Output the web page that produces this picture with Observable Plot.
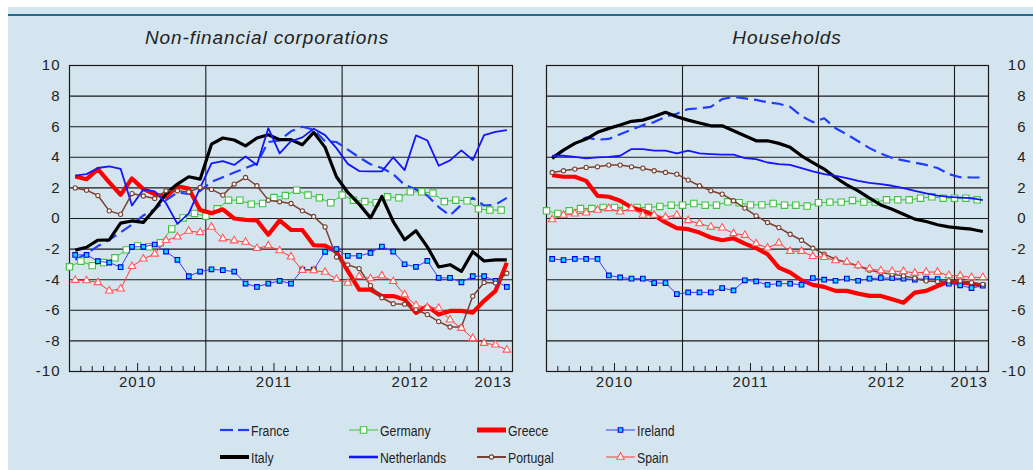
<!DOCTYPE html>
<html><head><meta charset="utf-8">
<script src="https://cdn.jsdelivr.net/npm/d3@7"></script>
<script src="https://cdn.jsdelivr.net/npm/@observablehq/plot@0.6"></script>
<style>
html,body{margin:0;padding:0;background:#fff;}
#wrap{position:relative;width:1033px;height:470px;overflow:hidden;background:#fff;}
#bg{position:absolute;left:8px;top:7px;width:1025px;height:463px;background:#d5e5ef;}
#topline{position:absolute;left:8px;top:14px;width:1025px;height:2px;background:#1f6a90;}
#wrap svg{position:absolute;left:0;top:0;}
</style></head>
<body>
<div id="wrap"><div id="bg"></div><div id="topline"></div></div>
<script>
// ---------- data ----------
const panelTitles = ["Non-financial corporations", "Households"];
const yTicks = [-10, -8, -6, -4, -2, 0, 2, 4, 6, 8, 10];
const yearLabels = ["2010", "2011", "2012", "2013"];
const yearLabelPos = [6, 18, 30, 37.3];   // months since Jan 2010
const yearLines = [12, 24, 36];
const seriesNames = ["France", "Germany", "Greece", "Ireland", "Italy", "Netherlands", "Portugal", "Spain"];

// Non-financial corporations, Jan 2010 - Mar 2013
const nfcFrance = [-2.7,-2.3,-1.8,-1.4,-0.9,-0.4,0.2,0.6,1.2,1.7,1.6,1.8,2.4,2.7,3.0,3.3,3.6,5.0,5.1,5.7,6.0,5.8,5.05,5.0,4.5,4.0,3.55,3.3,2.9,2.2,1.9,1.5,0.75,0.2,0.9,1.35,0.85,0.9,1.35];
const nfcGermany = [-3.16,-2.79,-3.08,-2.88,-2.57,-2.05,-1.79,-1.85,-1.59,-0.68,0.04,0.33,0.15,0.63,1.2,1.2,0.94,0.98,1.37,1.5,1.85,1.53,1.35,1.03,1.53,1.2,1.11,1.03,1.42,1.35,1.74,1.74,1.66,1.11,1.2,1.16,0.63,0.55,0.55];
const nfcGreece = [2.75,2.57,3.23,2.36,1.55,2.62,1.92,1.59,1.42,2.1,1.95,0.55,0.35,0.6,0.0,-0.09,-0.12,-1.06,-0.12,-0.75,-0.75,-1.75,-1.77,-2.18,-3.42,-4.65,-4.65,-5.07,-5.07,-5.29,-6.17,-5.73,-6.28,-6.04,-6.04,-6.15,-5.38,-4.73,-2.89];
const nfcIreland = [-2.38,-2.38,-2.79,-2.88,-3.18,-1.85,-1.85,-1.70,-2.16,-2.70,-3.77,-3.47,-3.32,-3.38,-3.47,-4.25,-4.47,-4.25,-4.08,-4.25,-3.34,-3.34,-2.18,-2.0,-2.44,-2.44,-2.25,-1.83,-2.16,-2.99,-3.16,-2.77,-3.88,-3.88,-4.17,-3.77,-3.77,-4.08,-4.47];
const nfcItaly = [-2.07,-1.88,-1.42,-1.40,-0.3,-0.16,-0.25,0.6,1.63,2.25,2.73,2.57,4.86,5.26,5.13,4.75,5.26,5.47,5.15,5.15,4.82,5.63,4.65,2.73,1.7,0.94,0.04,1.44,-0.2,-1.39,-0.8,-1.85,-3.17,-3.02,-3.46,-2.17,-2.78,-2.7,-2.7];
const nfcNetherlands = [2.8,2.9,3.3,3.4,3.25,0.85,1.9,1.77,1.0,-0.35,0.33,2.0,3.6,3.75,3.5,4.05,3.5,5.9,4.25,5.05,5.3,5.87,5.45,4.6,3.57,3.1,3.08,3.08,4.0,3.16,5.43,5.1,3.45,3.8,4.45,3.82,5.45,5.66,5.78];
const nfcPortugal = [2.0,1.85,1.5,0.5,0.27,1.63,1.47,1.31,1.81,1.81,1.74,2.03,1.9,1.53,2.25,2.68,2.14,1.2,1.09,0.98,0.5,0.13,-0.55,-2.52,-3.03,-3.27,-4.39,-5.18,-5.57,-5.6,-5.95,-6.28,-6.74,-7.09,-7.09,-5.08,-4.18,-4.22,-3.58];
const nfcSpain = [-4.03,-4.06,-4.18,-4.73,-4.6,-3.13,-2.64,-2.32,-1.43,-1.2,-0.82,-0.91,-0.56,-1.32,-1.45,-1.54,-1.95,-1.78,-2.1,-2.5,-3.38,-3.4,-3.5,-3.96,-4.22,-3.78,-3.93,-3.74,-4.11,-4.98,-5.68,-5.81,-5.86,-6.62,-7.17,-7.83,-8.15,-8.26,-8.59];

// Households, Jan 2010 - Mar 2013
const hhFrance = [4.0,4.5,4.9,5.3,5.15,5.2,5.5,5.8,6.1,6.3,6.65,6.85,7.15,7.2,7.3,7.8,7.95,7.85,7.75,7.6,7.5,7.3,6.7,6.3,6.55,5.9,5.5,5.05,4.6,4.25,3.95,3.8,3.65,3.5,3.3,2.9,2.7,2.68,2.68];
const hhGermany = [0.5,0.33,0.5,0.65,0.65,0.72,0.72,0.72,0.72,0.72,0.79,0.87,0.87,0.98,0.87,0.87,1.09,1.03,0.89,0.89,0.98,0.87,0.87,0.81,1.03,1.07,1.07,1.18,1.07,1.07,1.22,1.22,1.22,1.33,1.42,1.33,1.33,1.33,1.22];
const hhGreece = [2.84,2.73,2.73,2.46,1.48,1.42,1.16,0.72,0.5,0.22,-0.26,-0.63,-0.7,-0.92,-1.24,-1.42,-1.29,-1.64,-1.94,-2.33,-3.21,-3.53,-4.03,-4.34,-4.47,-4.73,-4.73,-4.91,-5.06,-5.06,-5.28,-5.5,-4.84,-4.73,-4.41,-4.12,-4.19,-4.25,-4.41];
const hhIreland = [-2.64,-2.72,-2.64,-2.64,-2.64,-3.72,-3.85,-3.93,-3.93,-4.22,-4.22,-4.94,-4.83,-4.83,-4.83,-4.55,-4.7,-4.04,-4.11,-4.33,-4.26,-4.26,-4.33,-3.89,-4.0,-4.07,-3.93,-4.07,-3.93,-3.89,-3.89,-3.93,-4.0,-3.93,-3.96,-4.26,-4.37,-4.55,-4.39];
const hhItaly = [3.93,4.47,4.91,5.19,5.63,5.89,6.11,6.35,6.43,6.67,6.94,6.65,6.43,6.24,6.06,6.06,5.74,5.41,5.08,5.08,4.91,4.65,4.1,3.66,3.23,2.68,2.2,1.81,1.33,0.89,0.61,0.28,-0.04,-0.2,-0.41,-0.55,-0.63,-0.7,-0.85];
const hhNetherlands = [4.1,4.1,4.03,3.93,3.99,4.03,4.1,4.54,4.54,4.43,4.43,4.25,4.43,4.25,4.21,4.17,4.17,3.95,3.88,3.66,3.55,3.51,3.29,3.08,2.9,2.79,2.64,2.46,2.33,2.25,2.14,1.98,1.81,1.64,1.5,1.42,1.37,1.33,1.2];
const hhPortugal = [3.01,3.12,3.23,3.34,3.38,3.49,3.49,3.38,3.29,3.12,3.01,2.9,2.51,2.14,1.81,1.59,1.16,0.68,0.17,-0.26,-0.59,-1.03,-1.42,-1.94,-2.33,-2.66,-2.88,-3.1,-3.38,-3.53,-3.64,-3.75,-3.9,-4.08,-4.12,-4.08,-4.08,-4.19,-4.3];
const hhSpain = [-0.07,0.22,0.31,0.37,0.55,0.66,0.44,0.66,0.22,0.22,0.09,0.22,-0.13,-0.33,-0.55,-0.61,-0.98,-1.09,-1.64,-1.92,-1.6,-2.14,-2.14,-2.47,-2.54,-2.75,-2.84,-3.08,-3.28,-3.41,-3.45,-3.45,-3.56,-3.5,-3.5,-3.72,-3.74,-3.85,-3.85];

// ---------- styles ----------
const styles = {
  France:      {stroke: "#1f3cff", width: 2.2, dash: "12,6"},
  Germany:     {stroke: "#3fc23f", width: 1, symbol: "square", r: 3.6, fill: "#ffffff", dotStroke: "#3fc23f", offset: 0},
  Greece:      {stroke: "#ff0000", width: 4.2},
  Ireland:     {stroke: "#3a3aff", width: 1, symbol: "square", r: 2.6, fill: "#10d8ff", dotStroke: "#0000dd"},
  Italy:       {stroke: "#000000", width: 3.2},
  Netherlands: {stroke: "#1414ff", width: 1.8},
  Portugal:    {stroke: "#7a4030", width: 1.5, symbol: "circle", r: 2.1, fill: "#ffffff", dotStroke: "#7a4030"},
  Spain:       {stroke: "#ff3a3a", width: 1, symbol: "triangle", r: 2.8, fill: "#ffffff", dotStroke: "#ff5a5a"}
};

const panels = [
  {title: panelTitles[0], side: "left", marginLeft: 69, marginRight: 1033 - 512, titleX: 267,
   values: [nfcFrance, nfcGermany, nfcGreece, nfcIreland, nfcItaly, nfcNetherlands, nfcPortugal, nfcSpain]},
  {title: panelTitles[1], side: "right", marginLeft: 546, marginRight: 1033 - 988, titleX: 787,
   values: [hhFrance, hhGermany, hhGreece, hhIreland, hhItaly, hhNetherlands, hhPortugal, hhSpain]}
];

const monthTicks = d3.range(1, 39).filter(m => m % 12 !== 0 && m % 12 !== 6);
const midTicks = d3.range(6, 39, 12);
const yearTickData = yearLabels.map((label, i) => ({label, pos: yearLabelPos[i]}));
const ink = "#1a1a1a";
const font = "'Liberation Sans', Arial, Helvetica, sans-serif";

const wrap = document.getElementById("wrap");

for (const p of panels) {
  const marks = [
    Plot.ruleY(yTicks, {stroke: ink, strokeWidth: 1.1}),
    Plot.ruleX(yearLines, {stroke: ink, strokeWidth: 1.1}),
    Plot.ruleX(monthTicks, {y1: -10, y2: -10, insetTop: -5, stroke: ink}),
    Plot.ruleX(midTicks, {y1: -10, y2: -10, insetTop: -8, stroke: ink}),
    Plot.frame({stroke: ink, strokeWidth: 1.2}),
    Plot.text(yTicks, {y: d => d, text: d => String(d), frameAnchor: p.side,
      dx: p.side === "left" ? -9 : 38, textAnchor: "end", fontSize: 15, fill: "#222", style: "letter-spacing:1.5px"}),
    Plot.text(yearTickData, {x: "pos", text: "label", frameAnchor: "bottom", dy: 15, fontSize: 15, fill: "#222"})
  ];
  seriesNames.forEach((name, si) => {
    const st = styles[name];
    const off = st.offset !== undefined ? st.offset : 0.5;
    const rows = p.values[si].map((v, i) => ({x: i + off, y: v}));
    marks.push(Plot.line(rows, {x: "x", y: "y", stroke: st.stroke, strokeWidth: st.width,
      strokeDasharray: st.dash, strokeLinejoin: "round", strokeLinecap: "butt"}));
    if (st.symbol) {
      marks.push(Plot.dot(rows, {x: "x", y: "y", symbol: st.symbol, r: st.r, fill: st.fill,
        stroke: st.dotStroke, strokeWidth: 1.1}));
    }
  });
  const svg = Plot.plot({
    width: 1033, height: 400,
    marginLeft: p.marginLeft, marginRight: p.marginRight, marginTop: 65, marginBottom: 29,
    x: {domain: [0, 39], axis: null},
    y: {domain: [-10, 10], axis: null},
    style: {background: "transparent", fontFamily: font, color: "#222", overflow: "visible"},
    marks
  });
  svg.style.letterSpacing = "1px";
  wrap.appendChild(svg);
}

// ---------- titles & legend overlay ----------
const ov = d3.select(wrap).append("svg").attr("width", 1033).attr("height", 470)
  .style("font-family", font);
panels.forEach(p => {
  ov.append("text").attr("x", p.titleX).attr("y", 44).attr("text-anchor", "middle")
    .attr("font-size", 19).attr("font-style", "italic").attr("fill", "#222")
    .style("letter-spacing", "0.9px").text(p.title);
});

const legendCols = [220, 349, 477, 606];
const legendRows = [430, 457];
seriesNames.forEach((name, i) => {
  const st = styles[name];
  const x0 = legendCols[i % 4], y = legendRows[Math.floor(i / 4)];
  const g = ov.append("g");
  if (name === "France") {
    g.append("line").attr("x1", x0).attr("x2", x0 + 13).attr("y1", y).attr("y2", y)
      .attr("stroke", st.stroke).attr("stroke-width", 2.2);
    g.append("line").attr("x1", x0 + 18).attr("x2", x0 + 29).attr("y1", y).attr("y2", y)
      .attr("stroke", st.stroke).attr("stroke-width", 2.2);
  } else {
    const lw = name === "Greece" ? 5 : name === "Italy" ? 4 : name === "Netherlands" ? 2.6 : name === "Portugal" ? 2 : 1;
    g.append("line").attr("x1", x0).attr("x2", x0 + 29).attr("y1", y).attr("y2", y)
      .attr("stroke", st.stroke).attr("stroke-width", lw);
  }
  if (st.symbol) {
    const sym = {square: d3.symbolSquare, circle: d3.symbolCircle, triangle: d3.symbolTriangle}[st.symbol];
    g.append("path").attr("d", d3.symbol(sym, Math.PI * st.r * st.r)())
      .attr("transform", `translate(${x0 + 14.5},${y})`)
      .attr("fill", st.fill).attr("stroke", st.dotStroke).attr("stroke-width", 1.1);
  }
  g.append("text").attr("transform", `translate(${x0 + 31},${y + 6}) scale(0.82,1)`)
    .attr("font-size", 15).attr("fill", "#222").text(name);
});
</script>
</body></html>
